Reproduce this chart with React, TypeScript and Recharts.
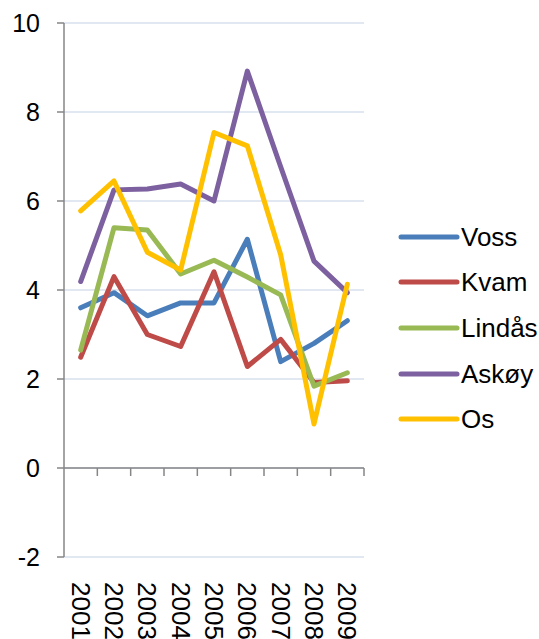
import { LineChart, Line, XAxis, YAxis, CartesianGrid, ReferenceLine } from 'recharts'

const years = ['2001', '2002', '2003', '2004', '2005', '2006', '2007', '2008', '2009']
const voss = [3.6, 3.94, 3.42, 3.71, 3.71, 5.14, 2.39, 2.8, 3.31]
const kvam = [2.49, 4.3, 3.0, 2.73, 4.41, 2.28, 2.89, 1.92, 1.96]
const lindas = [2.65, 5.4, 5.35, 4.36, 4.67, 4.29, 3.89, 1.84, 2.14]
const askoy = [4.19, 6.25, 6.27, 6.38, 6.0, 8.92, 6.77, 4.65, 3.94]
const os = [5.78, 6.45, 4.85, 4.45, 7.54, 7.24, 4.79, 0.99, 4.13]
const yTicks = [-2, 0, 2, 4, 6, 8, 10]

const series = [
  { key: 'Voss', values: voss, color: '#4A7EBB' },
  { key: 'Kvam', values: kvam, color: '#BE4B48' },
  { key: 'Lindås', values: lindas, color: '#98B954' },
  { key: 'Askøy', values: askoy, color: '#7D60A0' },
  { key: 'Os', values: os, color: '#FFC000' },
]

const data = years.map((year, i) => {
  const row: any = { year }
  series.forEach((s) => {
    row[s.key] = s.values[i]
  })
  return row
})

const FONT = '"Liberation Sans", Arial, sans-serif'
const AXIS = '#868686'

function YearTick(props: any) {
  const { x, y, payload } = props
  return (
    <text
      transform={`translate(${x}, ${y}) rotate(90)`}
      textAnchor="start"
      dominantBaseline="central"
      fontSize={26}
      fontFamily={FONT}
      fill="#000"
    >
      {payload.value}
    </text>
  )
}

// zero line with Excel-style tick marks between categories
function ZeroAxis(props: any) {
  const { x1, y1, x2 } = props
  const step = (x2 - x1) / years.length
  return (
    <g>
      <line x1={x1} y1={y1} x2={x2} y2={y1} stroke={AXIS} strokeWidth={1.5} />
      {years.map((_, i) => (
        <line
          key={i}
          x1={x1 + step * (i + 1)}
          y1={y1}
          x2={x1 + step * (i + 1)}
          y2={y1 + 8}
          stroke={AXIS}
          strokeWidth={1.5}
        />
      ))}
    </g>
  )
}

function ChartLegend() {
  return (
    <div
      style={{
        position: 'absolute',
        left: 398,
        top: 214,
        width: 141,
        fontFamily: FONT,
        fontSize: 26,
        color: '#000',
        whiteSpace: 'nowrap',
      }}
    >
      {series.map((s) => (
        <div key={s.key} style={{ display: 'flex', alignItems: 'center', height: 45.6 }}>
          <svg width={62} height={10} style={{ display: 'block', flex: 'none' }}>
            <line x1={3} y1={5} x2={59} y2={5} stroke={s.color} strokeWidth={5} strokeLinecap="round" />
          </svg>
          <span style={{ marginLeft: 1, lineHeight: 1 }}>{s.key}</span>
        </div>
      ))}
    </div>
  )
}

export default function App() {
  return (
    <div style={{ position: 'absolute', left: 0, top: 0, width: 539, height: 639, background: '#fff', overflow: 'hidden' }}>
      <LineChart width={539} height={639} data={data} margin={{ top: 23, right: 175, bottom: 0, left: 0 }}>
        <CartesianGrid vertical={false} stroke="#D9E1EE" strokeWidth={1.5} />
        <XAxis
          dataKey="year"
          scale="band"
          height={82}
          axisLine={false}
          tickLine={false}
          tickSize={0}
          tickMargin={25}
          interval={0}
          tick={<YearTick />}
        />
        <YAxis
          width={64}
          domain={[-2, 10]}
          ticks={yTicks}
          interval={0}
          stroke={AXIS}
          axisLine={{ stroke: AXIS, strokeWidth: 1.5 }}
          tickLine={{ stroke: AXIS, strokeWidth: 1.5 }}
          tickSize={7}
          tickMargin={17}
          tick={{ fill: '#000', fontSize: 25, fontFamily: FONT }}
        />
        <ReferenceLine y={0} shape={(p: any) => <ZeroAxis {...p} />} />
        {series.map((s) => (
          <Line
            key={s.key}
            type="linear"
            dataKey={s.key}
            stroke={s.color}
            strokeWidth={5}
            strokeLinejoin="round"
            strokeLinecap="round"
            dot={false}
            activeDot={false}
            isAnimationActive={false}
          />
        ))}
      </LineChart>
      <ChartLegend />
    </div>
  )
}
